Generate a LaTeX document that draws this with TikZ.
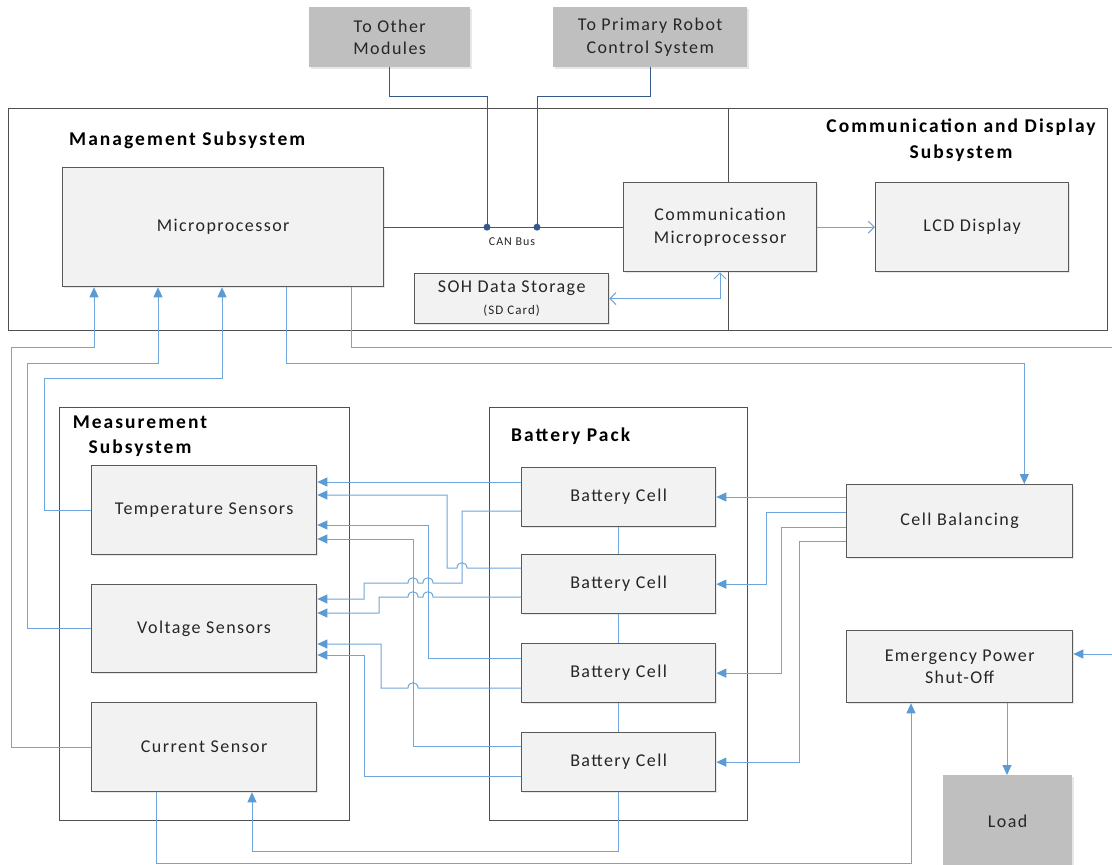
\documentclass[tikz,border=0pt]{standalone}
\usepackage{fontspec}
\setmainfont{Carlito}[LetterSpace=8]
\usetikzlibrary{arrows.meta,shadows,calc}
\definecolor{lblue}{RGB}{110,165,218}
\definecolor{ablue}{RGB}{91,155,213}
\definecolor{dblue}{RGB}{52,90,138}
\definecolor{boxfill}{RGB}{242,242,242}
\definecolor{boxdraw}{RGB}{89,89,89}
\definecolor{grayfill}{RGB}{191,191,191}
\definecolor{txt}{RGB}{38,38,38}
\definecolor{framecol}{RGB}{80,80,80}
\newcommand{\hop}[2]{-- (#1+5,#2) .. controls (#1+5,#2-7) and (#1-5,#2-7) .. (#1-5,#2)}
\begin{document}
\begin{tikzpicture}[x=1pt,y=-1pt,
  box/.style={draw=boxdraw, fill=boxfill, line width=1.3pt, inner sep=0pt, anchor=north west, align=center, text=txt,
    font=\fontsize{18}{22.5}\selectfont, drop shadow={opacity=0.18, shadow xshift=1.5pt, shadow yshift=-1.5pt}},
  gbox/.style={fill=grayfill, inner sep=0pt, anchor=north west, align=center, text=txt,
    font=\fontsize{18}{22.5}\selectfont, drop shadow={opacity=0.18, shadow xshift=1.5pt, shadow yshift=-1.5pt}},
  cont/.style={draw=framecol, line width=1.3pt, inner sep=0pt, anchor=north west},
  title/.style={inner sep=0pt, text=black, font=\bfseries\fontsize{19.5}{25.5}\selectfont\addfontfeatures{LetterSpace=10.5}},
  wire/.style={draw=lblue, line width=1pt},
  arr/.style={wire, -{Triangle[length=10pt,width=9pt,color=ablue]}},
  oarr/.style={wire, -{Straight Barb[length=6pt,width=12pt]}},
  boarr/.style={wire, {Straight Barb[length=6pt,width=12pt]}-{Straight Barb[length=6pt,width=12pt]}},
  bus/.style={draw=dblue, line width=1pt},
  dot/.style={circle, fill=dblue, inner sep=0pt, minimum size=7pt}
]
\useasboundingbox (0,0) rectangle (1112,865);

% containers
\node[cont, minimum width=720pt, minimum height=222pt] (mgmt) at (8,108) {};
\node[cont, minimum width=379pt, minimum height=222pt] (commsys) at (728,108) {};
\node[cont, minimum width=290pt, minimum height=413pt] (meas) at (59,407) {};
\node[cont, minimum width=258pt, minimum height=413pt] (pack) at (489,407) {};

% titles
\node[title, anchor=west] (mgmtT) at (69,140) {Management Subsystem};
\node[title, align=center] (commT) at (961,140) {Communication and Display\\Subsystem};
\node[title, align=center] (measT) at (140,436) {Measurement\\Subsystem};
\node[title, anchor=west] (packT) at (511,436) {Battery Pack};

% boxes
\node[gbox, minimum width=161pt, minimum height=60pt] (other) at (309,7) {To Other\\Modules};
\node[gbox, minimum width=194pt, minimum height=60pt] (primary) at (553,7) {To Primary Robot\\Control System};
\node[box, minimum width=321pt, minimum height=119pt] (micro) at (62,167) {Microprocessor};
\node[box, minimum width=193pt, minimum height=89pt] (cmicro) at (623,182) {Communication\\Microprocessor};
\node[box, minimum width=193pt, minimum height=89pt] (lcd) at (875,182) {LCD Display};
\node[box, minimum width=194pt, minimum height=50pt] (soh) at (414,273) {SOH Data Storage\\[0pt]{\fontsize{13}{15}\selectfont (SD Card)}};
\node[box, minimum width=225pt, minimum height=89pt] (temp) at (91,465) {Temperature Sensors};
\node[box, minimum width=225pt, minimum height=88pt] (volt) at (91,584) {Voltage Sensors};
\node[box, minimum width=225pt, minimum height=89pt] (curr) at (91,702) {Current Sensor};
\node[box, minimum width=194pt, minimum height=59pt] (cell1) at (521,467) {Battery Cell};
\node[box, minimum width=194pt, minimum height=59pt] (cell2) at (521,554) {Battery Cell};
\node[box, minimum width=194pt, minimum height=59pt] (cell3) at (521,643) {Battery Cell};
\node[box, minimum width=194pt, minimum height=59pt] (cell4) at (521,732) {Battery Cell};
\node[box, minimum width=226pt, minimum height=73pt] (bal) at (846,484) {Cell Balancing};
\node[box, minimum width=226pt, minimum height=72pt] (emerg) at (846,630) {Emergency Power\\Shut-Off};
\node[gbox, minimum width=129pt, minimum height=92pt] (load) at (943,775) {Load};

% CAN bus
\draw[bus] (micro.east) -- (cmicro.west);
\node[dot] (d1) at (micro.east -| 487,0) {};
\node[dot] (d2) at (micro.east -| 537,0) {};
\draw[bus] (other.south) -- ++(0,29) -| (d1.center);
\draw[bus] (primary.south) -- ++(0,29) -| (d2.center);
\node[inner sep=0pt, text=txt, font=\fontsize{12}{14}\selectfont] (can) at (512,242) {CAN Bus};

% communication
\draw[oarr] (cmicro.east) -- (lcd.west);
\draw[boarr] (soh.east) -| ($(cmicro.south west)+(97,0)$);

% sensors to microprocessor
\draw[arr] (curr.west) -| (11,347) -| ($(micro.south west)+(32,0)$);
\draw[arr] (volt.west) -| (27,363) -| ($(micro.south west)+(96,0)$);
\draw[arr] (temp.west) -| (44,378) -| ($(micro.south west)+(160,0)$);

% microprocessor outputs
\draw[arr] ($(micro.south west)+(224,0)$) -- ++(0,76) -| ($(bal.north east)+(-49,0)$);
\coordinate (rightA) at (1112,347);
\draw[wire] ($(micro.south west)+(289,0)$) |- (rightA);
\coordinate (rightB) at (1112,654);
\draw[arr] (rightB) -- (emerg.east |- rightB);

% cell balancing
\draw[arr] (bal.west |- 0,497) -- (cell1.east |- 0,497);
\draw[arr] (bal.west |- 0,512) -- (766,512) |- (cell2.east);
\draw[arr] (bal.west |- 0,527) -- (781,527) |- (cell3.east);
\draw[arr] (bal.west |- 0,541) -- (799,541) |- (cell4.east);

% cell chain
\draw[wire] (cell1.south) -- (cell2.north);
\draw[wire] (cell2.south) -- (cell3.north);
\draw[wire] (cell3.south) -- (cell4.north);
\draw[arr] (cell4.south) -- ++(0,59) -| ($(curr.south west)+(161,0)$);
\draw[arr] ($(curr.south west)+(65,0)$) -- ++(0,71.5) -| ($(emerg.south west)+(65,0)$);
\draw[arr] ($(emerg.south west)+(161,0)$) -- ($(load.north west)+(64,0)$);

% cells to sensors
\draw[arr] (cell1.west |- 0,482) -- (temp.east |- 0,482);
\draw[arr] (cell1.west |- 0,511) -- (462,511) -- (462,583) \hop{428}{583} \hop{413}{583} -- (364,583) -- (364,599) -- (volt.east |- 0,599);
\draw[arr] (cell2.west |- 0,568) \hop{462}{568} -- (447,568) -- (447,495) -- (temp.east |- 0,495);
\draw[arr] (cell2.west |- 0,597) \hop{428}{597} \hop{413}{597} -- (379,597) -- (379,613) -- (volt.east |- 0,613);
\draw[arr] (cell3.west |- 0,658) -- (428,658) -- (428,525) -- (temp.east |- 0,525);
\draw[arr] (cell3.west |- 0,688) \hop{413}{688} -- (381,688) -- (381,644) -- (volt.east |- 0,644);
\draw[arr] (cell4.west |- 0,746) -- (413,746) -- (413,539) -- (temp.east |- 0,539);
\draw[arr] (cell4.west |- 0,776) -- (364,776) -- (364,655) -- (volt.east |- 0,655);
\end{tikzpicture}
\end{document}
